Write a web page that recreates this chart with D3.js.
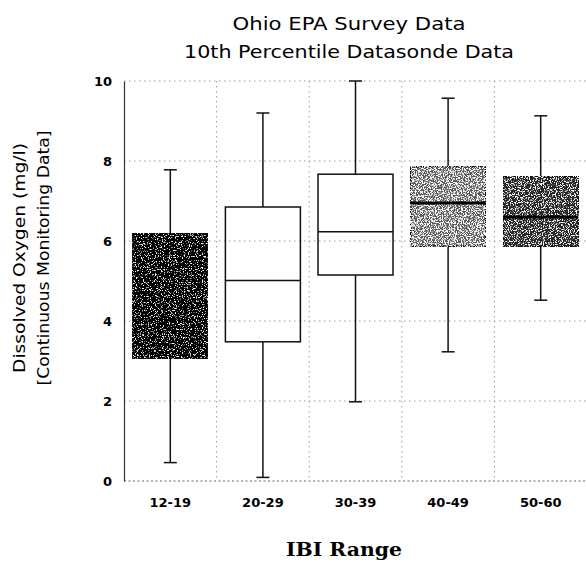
<!DOCTYPE html>
<html>
<head>
<meta charset="utf-8">
<script src="https://cdn.jsdelivr.net/npm/d3@7"></script>
<style>
  html, body { margin: 0; padding: 0; background: #fff; }
  svg { display: block; }
</style>
</head>
<body>
<svg id="chart" width="586" height="568"></svg>
<script>
// ---- data ----
const categories = ["12-19", "20-29", "30-39", "40-49", "50-60"];
const whiskerLow  = [0.46, 0.09, 1.98, 3.23, 4.52];
const q1          = [3.05, 3.48, 5.15, 5.87, 5.87];
const median      = [4.60, 5.01, 6.23, 6.95, 6.60];
const q3          = [6.20, 6.85, 7.67, 7.86, 7.61];
const whiskerHigh = [7.78, 9.20, 10.0, 9.57, 9.13];
const yTicks = [0, 2, 4, 6, 8, 10];
const titleLines = ["Ohio EPA Survey Data", "10th Percentile Datasonde Data"];
const yTitleLines = ["Dissolved Oxygen (mg/l)", "[Continuous Monitoring Data]"];
const xTitle = "IBI Range";

// ---- style ----
const boxFills = ["#050505", "#ffffff", "#ffffff", "#5a5a5a", "#262626"];
const speckle  = [2.9, 0, 0, 3.75, 3.35];   // threshold for white specks (0 = none)
const font = "'DejaVu Sans', sans-serif";

const svg = d3.select("#chart");
const margin = { left: 124, right: -1, top: 81, bottom: 87 };
const W = 586, H = 568;

const x = d3.scaleBand().domain(categories)
  .range([margin.left, W - margin.right]).paddingInner(0.19).paddingOuter(0.095);
const xb = d3.scaleBand().domain(categories)
  .range([margin.left, W - margin.right]);
const y = d3.scaleLinear().domain([0, 10]).range([H - margin.bottom, margin.top]);

// speckle texture filters
const defs = svg.append("defs");
speckle.forEach((t, i) => {
  if (!t) return;
  const f = defs.append("filter").attr("id", "speckle" + i).attr("x", 0).attr("y", 0).attr("width", 1).attr("height", 1);
  f.append("feTurbulence").attr("type", "fractalNoise").attr("baseFrequency", 0.85).attr("numOctaves", 2).attr("seed", 3 + i).attr("result", "noise");
  f.append("feColorMatrix").attr("in", "noise").attr("type", "matrix")
    .attr("values", `0 0 0 0 1  0 0 0 0 1  0 0 0 0 1  0 0 0 -7 ${t}`).attr("result", "wn");
  f.append("feComposite").attr("in", "wn").attr("in2", "SourceGraphic").attr("operator", "in").attr("result", "wspk");
  f.append("feMerge").selectAll("feMergeNode").data(["SourceGraphic", "wspk"]).join("feMergeNode").attr("in", d => d);
});

// grid
const grid = svg.append("g").attr("stroke", "#9a9a9a").attr("stroke-width", 1).attr("stroke-dasharray", "1.5,3.5").attr("fill", "none");
grid.selectAll("line.h").data(yTicks.filter(d => d > 0)).join("line")
  .attr("x1", margin.left).attr("x2", W).attr("y1", d => y(d)).attr("y2", d => y(d));
grid.selectAll("line.v").data(categories.slice(1)).join("line")
  .attr("x1", d => xb(d)).attr("x2", d => xb(d)).attr("y1", y(10)).attr("y2", y(0));
// bottom dotted baseline
svg.append("line").attr("x1", margin.left).attr("x2", W).attr("y1", y(0)).attr("y2", y(0))
  .attr("stroke", "#666").attr("stroke-dasharray", "2,2.5");

// y axis
const yAxis = svg.append("g").attr("transform", `translate(${margin.left},0)`)
  .call(d3.axisLeft(y).tickValues(yTicks).tickSize(0).tickPadding(12));
yAxis.select(".domain").attr("stroke", "#333").attr("stroke-width", 1.2);
yAxis.selectAll("text").attr("font-family", font).attr("font-weight", "bold").attr("font-size", 13).attr("fill", "#000");

// x axis labels
const xAxis = svg.append("g").attr("transform", `translate(0,${y(0)})`)
  .call(d3.axisBottom(x).tickSize(0).tickPadding(17));
xAxis.select(".domain").remove();
xAxis.selectAll("text").attr("font-family", font).attr("font-weight", "bold").attr("font-size", 13).attr("fill", "#000");

// boxes
const idx = d3.range(categories.length);
const g = svg.append("g");
const cx = i => x(categories[i]) + x.bandwidth() / 2;
const capW = 13;
g.selectAll("line.wh").data(idx).join("line")
  .attr("x1", cx).attr("x2", cx).attr("y1", i => y(whiskerHigh[i])).attr("y2", i => y(q3[i]))
  .attr("stroke", "#111").attr("stroke-width", 1.5);
g.selectAll("line.wl").data(idx).join("line")
  .attr("x1", cx).attr("x2", cx).attr("y1", i => y(q1[i])).attr("y2", i => y(whiskerLow[i]))
  .attr("stroke", "#111").attr("stroke-width", 1.5);
g.selectAll("line.ch").data(idx).join("line")
  .attr("x1", i => cx(i) - capW / 2).attr("x2", i => cx(i) + capW / 2)
  .attr("y1", i => y(whiskerHigh[i])).attr("y2", i => y(whiskerHigh[i]))
  .attr("stroke", "#111").attr("stroke-width", 1.5);
g.selectAll("line.cl").data(idx).join("line")
  .attr("x1", i => cx(i) - capW / 2).attr("x2", i => cx(i) + capW / 2)
  .attr("y1", i => y(whiskerLow[i])).attr("y2", i => y(whiskerLow[i]))
  .attr("stroke", "#111").attr("stroke-width", 1.5);
g.selectAll("line.med").data(idx).join("line")
  .attr("x1", i => x(categories[i])).attr("x2", i => x(categories[i]) + x.bandwidth())
  .attr("y1", i => y(median[i])).attr("y2", i => y(median[i]))
  .attr("stroke", "#111").attr("stroke-width", 1.5);
g.selectAll("rect.box").data(idx).join("rect")
  .attr("x", i => x(categories[i])).attr("width", x.bandwidth())
  .attr("y", i => y(q3[i])).attr("height", i => y(q1[i]) - y(q3[i]))
  .attr("fill", i => boxFills[i]).attr("fill-opacity", i => boxFills[i] === "#ffffff" ? 0 : 1)
  .attr("stroke", "#111").attr("stroke-width", 1.5)
  .attr("filter", i => speckle[i] ? `url(#speckle${i})` : null);
// medians drawn over textured boxes
g.selectAll("line.med2").data(idx.filter(i => speckle[i] && i > 0)).join("line")
  .attr("x1", i => x(categories[i])).attr("x2", i => x(categories[i]) + x.bandwidth())
  .attr("y1", i => y(median[i])).attr("y2", i => y(median[i]))
  .attr("stroke", "#000").attr("stroke-width", 3);

// titles
svg.append("g").selectAll("text").data(titleLines).join("text")
  .attr("x", 349).attr("y", (d, i) => 30 + i * 28).attr("text-anchor", "middle")
  .attr("font-family", font).attr("font-size", 17).attr("fill", "#000")
  .attr("textLength", (d, i) => [233, 330][i]).attr("lengthAdjust", "spacingAndGlyphs").text(d => d);

svg.append("g").selectAll("text").data(yTitleLines).join("text")
  .attr("transform", (d, i) => `translate(${25 + i * 24},258) rotate(-90)`)
  .attr("text-anchor", "middle")
  .attr("font-family", font).attr("font-size", 16).attr("fill", "#000")
  .attr("textLength", (d, i) => [230, 255][i]).attr("lengthAdjust", "spacingAndGlyphs").text(d => d);

svg.append("text").attr("x", 344).attr("y", 556).attr("text-anchor", "middle")
  .attr("font-family", "'DejaVu Serif', serif").attr("font-weight", "bold").attr("font-size", 19)
  .attr("fill", "#000").attr("textLength", 116).attr("lengthAdjust", "spacingAndGlyphs").text(xTitle);
</script>
</body>
</html>
